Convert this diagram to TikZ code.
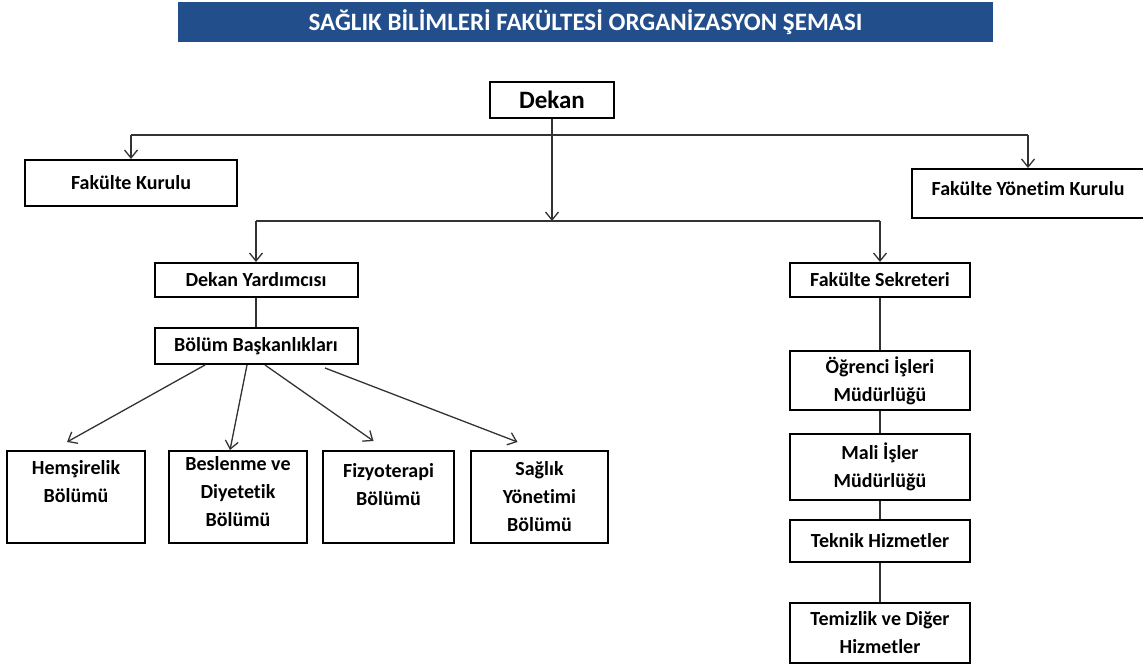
\documentclass[tikz,border=0pt]{standalone}
\usepackage{fontspec}
\setmainfont{Carlito}[Ligatures=NoCommon]
\usetikzlibrary{arrows.meta,calc}
\definecolor{titleblue}{RGB}{35,78,140}
\begin{document}
\begin{tikzpicture}[x=0.5pt,y=-0.5pt,
    box/.style={draw,line width=1pt,align=center,inner sep=1pt,
      font=\fontsize{10}{14}\selectfont\bfseries},
    link/.style={line width=0.65pt,draw=black!80},
    arr/.style={link,-{Straight Barb[length=4pt,width=6.5pt]}}]
  \useasboundingbox (0,0) rectangle (1143,668);
  \node[fill=titleblue,text=white,minimum width=407.5pt,minimum height=20pt,
    font=\fontsize{12.5}{14}\selectfont\bfseries] (title) at (585.5,22)
    {SAĞLIK BİLİMLERİ FAKÜLTESİ ORGANİZASYON ŞEMASI};
  \node[box,minimum width=62pt,minimum height=18pt,
    font=\fontsize{12.5}{14}\selectfont\bfseries] (dekan) at (552,100) {Dekan};
  \node[box,minimum width=106pt,minimum height=23pt] (kurul) at (131,183)
    {Fakülte Kurulu};
  \node[box,minimum width=116pt,minimum height=24.5pt,text depth=5pt]
    (yonetim) at (1028,193.5) {Fakülte Yönetim Kurulu};
  \node[box,minimum width=101.5pt,minimum height=17pt] (yard) at (256,280)
    {Dekan Yardımcısı};
  \node[box,minimum width=101.5pt,minimum height=18pt] (bolum) at (256,346)
    {Bölüm Başkanlıkları};
  \node[box,minimum width=69pt,minimum height=46pt,text depth=16pt] (hem)
    at (76,497) {Hemşirelik\\Bölümü};
  \node[box,minimum width=69pt,minimum height=46pt,text depth=6pt] (bes)
    at (238,497) {Beslenme ve\\Diyetetik\\Bölümü};
  \node[box,minimum width=65.5pt,minimum height=46pt,text depth=13pt] (fiz)
    at (388.5,497) {Fizyoterapi\\Bölümü};
  \node[box,minimum width=68.5pt,minimum height=46pt] (say) at (539.5,497)
    {Sağlık\\Yönetimi\\Bölümü};
  \node[box,minimum width=90pt,minimum height=17pt] (sek) at (880,280)
    {Fakülte Sekreteri};
  \node[box,minimum width=90pt,minimum height=29.5pt] (ogr) at (880,380.5)
    {Öğrenci İşleri\\Müdürlüğü};
  \node[box,minimum width=90pt,minimum height=33pt] (mali) at (880,467)
    {Mali İşler\\Müdürlüğü};
  \node[box,minimum width=90pt,minimum height=21pt] (tek) at (880,541)
    {Teknik Hizmetler};
  \node[box,minimum width=90pt,minimum height=30pt] (tem) at (880,633)
    {Temizlik ve Diğer\\Hizmetler};
  \coordinate (top) at (dekan.south |- 0,135);
  \coordinate (mid) at (dekan.south |- 0,221);
  \draw[link] (kurul.north |- top) -- (yonetim.north |- top);
  \draw[arr] (kurul.north |- top) -- (kurul.north);
  \draw[arr] (yonetim.north |- top) -- (yonetim.north);
  \draw[arr] (dekan.south) -- (mid);
  \draw[link] (yard.north |- mid) -- (sek.north |- mid);
  \draw[arr] (yard.north |- mid) -- (yard.north);
  \draw[arr] (sek.north |- mid) -- (sek.north);
  \draw[link] (yard) -- (bolum);
  \draw[arr] ($(bolum.south)+(-51,0)$) -- ($(hem.north)+(-9,-8)$);
  \draw[arr] ($(bolum.south)+(-9,0)$) -- ($(bes.north)+(-8,0)$);
  \draw[arr] ($(bolum.south)+(9,0)$) -- ($(fiz.north)+(-15,-9)$);
  \draw[arr] ($(bolum.south)+(69,3)$) -- ($(say.north)+(-22,-8)$);
  \draw[link] (sek) -- (ogr) -- (mali) -- (tek) -- (tem);
\end{tikzpicture}
\end{document}
